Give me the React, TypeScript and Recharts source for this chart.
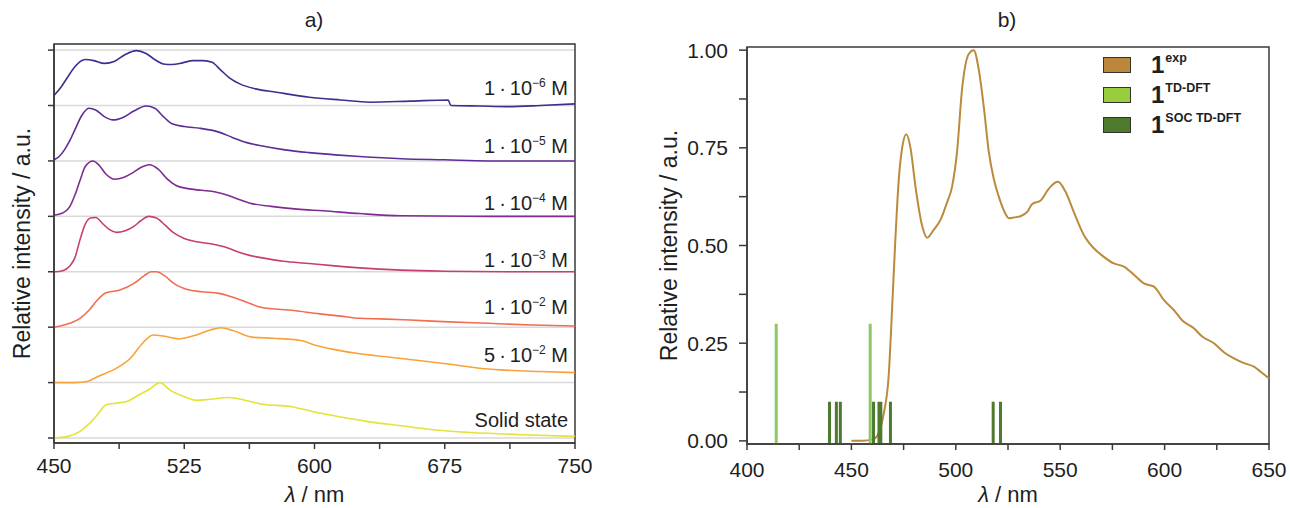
import React from 'react';
import { ComposedChart, Line, Scatter, XAxis, YAxis, CartesianGrid, ReferenceArea, Legend, Label } from 'recharts';

const FONT = '"Liberation Sans", Arial, Helvetica, sans-serif';
const AXIS = '#3a3a3a';
const INK = '#1e1e1e';

// a) normalised emission spectra [wavelength nm, relative intensity], bottom to top
const solidState: [number, number][] = [[450, 0], [458, 0.03], [465, 0.12], [470, 0.25], [475, 0.42], [480, 0.6], [486, 0.63], [492, 0.66], [499, 0.78], [505, 0.88], [511, 1.0], [517, 0.86], [524, 0.76], [532, 0.68], [540, 0.7], [551, 0.73], [560, 0.68], [570, 0.61], [586, 0.57], [603, 0.45], [615, 0.38], [630, 0.3], [650, 0.22], [668, 0.15], [690, 0.1], [720, 0.06], [750, 0.03]];
const conc5e2: [number, number][] = [[450, 0], [462, 0], [469, 0.02], [476, 0.12], [486, 0.26], [494, 0.44], [501, 0.71], [507, 0.86], [513, 0.84], [522, 0.79], [532, 0.86], [540, 0.95], [546, 0.99], [553, 0.94], [564, 0.82], [576, 0.8], [592, 0.76], [600, 0.68], [611, 0.6], [626, 0.52], [640, 0.47], [660, 0.4], [678, 0.33], [695, 0.26], [707, 0.23], [730, 0.2], [750, 0.18]];
const conc1e2: [number, number][] = [[450, 0], [459, 0.07], [465, 0.16], [470, 0.3], [475, 0.49], [480, 0.62], [488, 0.67], [496, 0.79], [502, 0.93], [506, 1.0], [509, 1.0], [514, 0.92], [519, 0.79], [528, 0.67], [535, 0.64], [545, 0.61], [553, 0.54], [561, 0.45], [569, 0.36], [588, 0.3], [603, 0.24], [615, 0.2], [626, 0.16], [638, 0.15], [655, 0.13], [674, 0.1], [700, 0.07], [725, 0.04], [750, 0.02]];
const conc1e3: [number, number][] = [[450, 0], [455, 0.02], [459, 0.1], [462, 0.25], [465, 0.58], [468, 0.86], [471, 0.97], [474, 0.98], [478, 0.87], [482, 0.76], [486, 0.71], [491, 0.74], [496, 0.82], [500, 0.92], [504.5, 1.0], [509, 0.97], [514, 0.84], [519, 0.7], [525, 0.6], [532, 0.54], [541, 0.5], [548, 0.45], [555, 0.37], [562, 0.3], [570, 0.25], [582, 0.19], [597, 0.15], [610, 0.11], [626, 0.07], [650, 0.03], [675, 0.01], [710, 0], [750, 0]];
const conc1e4: [number, number][] = [[450, 0.02], [455, 0.06], [459, 0.17], [462, 0.38], [465, 0.65], [468, 0.9], [472.5, 1.0], [476, 0.92], [480, 0.76], [485, 0.67], [490, 0.7], [495, 0.78], [500, 0.88], [505, 0.93], [510, 0.85], [515, 0.68], [520, 0.56], [527, 0.5], [535, 0.47], [543, 0.44], [550, 0.38], [557, 0.3], [564, 0.23], [575, 0.18], [590, 0.13], [605, 0.1], [626, 0.05], [650, 0.01], [700, 0], [750, 0]];
const conc1e5: [number, number][] = [[450, 0.02], [453, 0.08], [456, 0.2], [459, 0.36], [462, 0.56], [466, 0.82], [470, 0.95], [474, 0.92], [479, 0.8], [484, 0.74], [490, 0.79], [496, 0.9], [503, 0.99], [508, 0.95], [513, 0.8], [518, 0.67], [525, 0.62], [534, 0.59], [545, 0.52], [553, 0.42], [561, 0.33], [570, 0.27], [583, 0.2], [597, 0.15], [612, 0.11], [626, 0.08], [650, 0.04], [675, 0.02], [700, 0], [750, 0]];
const conc1e6: [number, number][] = [[450, 0.18], [454, 0.33], [458, 0.52], [462, 0.7], [468, 0.83], [473, 0.81], [479, 0.76], [485, 0.8], [491, 0.92], [497.5, 0.99], [503, 0.94], [508, 0.83], [513, 0.75], [518, 0.74], [524, 0.77], [530, 0.81], [536, 0.81], [541, 0.78], [546, 0.64], [551, 0.5], [557, 0.39], [566, 0.3], [578, 0.24], [597, 0.15], [615, 0.1], [632, 0.06], [655, 0.08], [677, 0.1], [678.5, 0], [695, -0.01], [711, -0.02], [730, 0], [750, 0.03]];

const concSeries = [solidState, conc5e2, conc1e2, conc1e3, conc1e4, conc1e5, conc1e6];
const concColors = ['#e6e236', '#f8a23a', '#f26d4f', '#c63e74', '#802a94', '#5d2c98', '#3d2f8e'];
const concMantissa = ['', '5', '1', '1', '1', '1', '1'];
const concExponent = ['', '\u22122', '\u22122', '\u22123', '\u22124', '\u22125', '\u22126'];
const labelRaise = [0.19, 0.38, 0.24, 0.085, 0.11, 0.15, 0.19];
const aTicksX = [450, 487.5, 525, 562.5, 600, 637.5, 675, 712.5, 750];
const aTicksY = [0, 1, 2, 3, 4, 5, 6, 7];

// b) experimental spectrum and computed transitions
const expSpectrum: [number, number][] = [[450, 0], [455, 0], [460.7, 0.005], [463, 0.02], [465.5, 0.07], [467.9, 0.17], [469.5, 0.34], [471, 0.51], [472.7, 0.67], [474.3, 0.75], [476.3, 0.785], [478.3, 0.75], [480.7, 0.65], [483.9, 0.55], [486.3, 0.52], [489.4, 0.54], [492.6, 0.565], [495.8, 0.61], [498.2, 0.65], [500.6, 0.74], [503, 0.9], [506.2, 0.99], [508.6, 1.0], [511, 0.95], [513.4, 0.855], [515.8, 0.74], [518.2, 0.67], [520.6, 0.625], [523, 0.59], [525.4, 0.57], [528, 0.572], [531, 0.575], [534.2, 0.586], [536.6, 0.606], [540.6, 0.615], [543.8, 0.64], [545.3, 0.65], [548.9, 0.663], [552.5, 0.638], [556.5, 0.586], [561.3, 0.527], [566.1, 0.493], [570.9, 0.471], [575.7, 0.454], [580.5, 0.446], [585.3, 0.425], [590.1, 0.403], [594.9, 0.395], [599.7, 0.36], [604.4, 0.335], [608.5, 0.308], [614, 0.288], [618, 0.267], [623.6, 0.25], [628.4, 0.227], [633.2, 0.211], [638, 0.199], [642.8, 0.19], [646, 0.177], [650, 0.16]];
const tdDftPos = [414, 459];
const tdDftHeight = [0.3, 0.3];
const socPos = [439.5, 442.8, 444.7, 460.6, 463.2, 464.1, 468.7, 517.9, 521.4];
const socHeight = [0.1, 0.1, 0.1, 0.1, 0.1, 0.1, 0.1, 0.1, 0.1];
const bTicksX = [400, 425, 450, 475, 500, 525, 550, 575, 600, 625, 650];
const bTicksY = [0, 0.125, 0.25, 0.375, 0.5, 0.625, 0.75, 0.875, 1];
const B_YMIN = -0.008;

const legendOrder = ['exp', 'TD-DFT', 'SOC TD-DFT'];
const legendFill: Record<string, string> = { exp: '#bb873a', 'TD-DFT': '#9acd3e', 'SOC TD-DFT': '#4f792d' };

const stacked = concSeries.map((s, i) => s.map(([x, v]) => ({ x, y: v + i })));
const concLabels = concSeries.map((_, i) => ({ x: 750, y: i + labelRaise[i], mant: concMantissa[i], exp: concExponent[i] }));
const expData = expSpectrum.map(([x, y]) => ({ x, y }));
const sticks = (pos: number[], h: number[]) =>
  pos.flatMap((x, i) => [{ x, y: B_YMIN }, { x, y: h[i] }, { x, y: null }]);

const tickStyle = { fontSize: 21, fill: INK, fontFamily: FONT };
const axisLine = { stroke: AXIS, strokeWidth: 1.5 };

const ConcLabel = (p: any) => {
  const d = p.payload;
  return (
    <text x={p.cx - 7} y={p.cy} textAnchor="end" fontSize={20} fill={INK} fontFamily={FONT}>
      {d.exp ? (
        <>
          {d.mant}{'\u2009\u00b7\u2009'}10<tspan dy={-8} fontSize={12}>{d.exp}</tspan><tspan dy={8}>{'\u00a0M'}</tspan>
        </>
      ) : 'Solid state'}
    </text>
  );
};

const lambdaLabel = (props: any) => {
  const vb = props.viewBox;
  return (
    <text x={vb.x + vb.width / 2} y={vb.y + vb.height - 6} textAnchor="middle" fontSize={22} fill={INK} fontFamily={FONT}>
      <tspan fontStyle="italic">λ</tspan> / nm
    </text>
  );
};

const intensityLabel = (dx: number) => (props: any) => {
  const vb = props.viewBox;
  const cx = vb.x + dx;
  const cy = vb.y + vb.height / 2;
  return (
    <text x={cx} y={cy} transform={`rotate(-90 ${cx} ${cy})`} textAnchor="middle" dominantBaseline="central" fontSize={23} fill={INK} fontFamily={FONT}>
      Relative intensity / a.u.
    </text>
  );
};

const LegendContent = (props: any) => {
  const items = [...(props.payload || [])].sort((a: any, b: any) => legendOrder.indexOf(a.value) - legendOrder.indexOf(b.value));
  return (
    <div style={{ fontFamily: FONT, color: INK }}>
      {items.map((e: any) => (
        <div key={e.value} style={{ display: 'flex', alignItems: 'center', height: 30 }}>
          <span style={{ width: 26, height: 14, background: legendFill[e.value], border: '1px solid #333', marginRight: 20 }} />
          <span style={{ fontSize: 24, fontWeight: 700, lineHeight: '24px' }}>1</span>
          <span style={{ fontSize: 12.5, fontWeight: 700, alignSelf: 'flex-start', marginTop: 1, marginLeft: 1 }}>{e.value}</span>
        </div>
      ))}
    </div>
  );
};

const title = (text: string, left: number, width: number) => (
  <div style={{ position: 'absolute', left, width, top: 8, textAlign: 'center', fontSize: 21, fontFamily: FONT, color: INK }}>{text}</div>
);

export default function App() {
  return (
    <div style={{ position: 'absolute', left: 0, top: 0, width: 1290, height: 508, background: '#fff' }}>
      {title('a)', 0, 628)}
      {title('b)', 900, 214)}

      <div style={{ position: 'absolute', left: 0, top: 0 }}>
        <ComposedChart width={600} height={508} margin={{ top: 44, right: 25, bottom: 0, left: 0 }}>
          <CartesianGrid vertical={false} stroke="#d9d9d9" strokeWidth={1.5} />
          <XAxis dataKey="x" type="number" domain={[450, 750]} ticks={aTicksX} interval={0} height={65}
            tickFormatter={(v: number) => (v % 75 === 0 ? String(v) : '')}
            tick={tickStyle} tickSize={6} tickMargin={9} axisLine={axisLine} tickLine={axisLine}>
            <Label content={lambdaLabel} />
          </XAxis>
          <YAxis type="number" domain={[-0.09, 7.11]} ticks={aTicksY} interval={0} width={54}
            tickFormatter={() => ''} tick={tickStyle} tickSize={6} axisLine={axisLine} tickLine={axisLine}>
            <Label content={intensityLabel(22)} />
          </YAxis>
          <ReferenceArea x1={450} x2={750} y1={-0.09} y2={7.11} fill="none" stroke={AXIS} strokeWidth={1.5} />
          {stacked.map((d, i) => (
            <Line key={i} data={d} dataKey="y" type="monotone" stroke={concColors[i]} strokeWidth={1.6}
              dot={false} activeDot={false} isAnimationActive={false} />
          ))}
          <Scatter data={concLabels} dataKey="y" shape={ConcLabel} isAnimationActive={false} />
        </ComposedChart>
      </div>

      <div style={{ position: 'absolute', left: 640, top: 0 }}>
        <ComposedChart width={650} height={508} margin={{ top: 47, right: 21, bottom: 0, left: 0 }}>
          <XAxis dataKey="x" type="number" domain={[400, 650]} ticks={bTicksX} interval={0} height={64}
            tickFormatter={(v: number) => (v % 50 === 0 ? String(v) : '')}
            tick={tickStyle} tickSize={6} tickMargin={12} axisLine={axisLine} tickLine={axisLine}>
            <Label content={lambdaLabel} />
          </XAxis>
          <YAxis type="number" domain={[B_YMIN, 1.008]} ticks={bTicksY} interval={0} width={107}
            tickFormatter={(v: number) => (v % 0.25 === 0 ? v.toFixed(2) : '')}
            tick={tickStyle} tickSize={8} tickMargin={11} axisLine={axisLine} tickLine={axisLine}>
            <Label content={intensityLabel(29)} />
          </YAxis>
          <ReferenceArea x1={400} x2={650} y1={B_YMIN} y2={1.008} fill="none" stroke={AXIS} strokeWidth={1.5} />
          <Line data={expData} dataKey="y" name="exp" type="monotone" stroke="#bc8a3c" strokeWidth={2}
            dot={false} activeDot={false} isAnimationActive={false} />
          <Line data={sticks(tdDftPos, tdDftHeight)} dataKey="y" name="TD-DFT" type="linear" stroke="#8cc866" strokeWidth={3}
            dot={false} activeDot={false} connectNulls={false} isAnimationActive={false} />
          <Line data={sticks(socPos, socHeight)} dataKey="y" name="SOC TD-DFT" type="linear" stroke="#4d7a2c" strokeWidth={3}
            dot={false} activeDot={false} connectNulls={false} isAnimationActive={false} />
          <Legend layout="vertical" align="center" verticalAlign="middle" content={LegendContent}
            wrapperStyle={{ left: 463, top: 50, width: 200, height: 95 }} />
        </ComposedChart>
      </div>
    </div>
  );
}
